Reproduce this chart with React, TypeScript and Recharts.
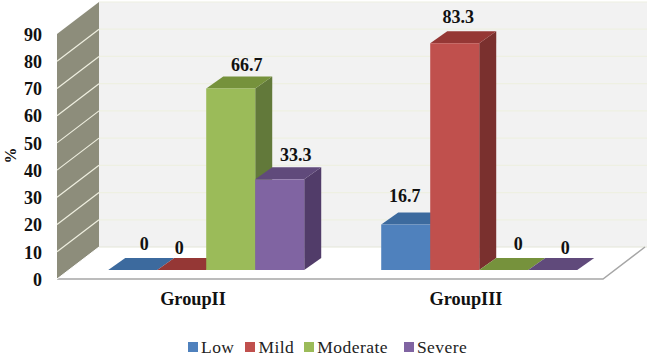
import React from "react";
import { BarChart, Bar, XAxis, YAxis, Legend, LabelList } from "recharts";

const groups = ["GroupII", "GroupIII"];
const low = [0, 16.7];
const mild = [0, 83.3];
const moderate = [66.7, 0];
const severe = [33.3, 0];
const yTicks = [0, 10, 20, 30, 40, 50, 60, 70, 80, 90];

const data = groups.map((group, i) => ({
  group,
  Low: low[i],
  Mild: mild[i],
  Moderate: moderate[i],
  Severe: severe[i],
}));

const WIDTH = 647;
const HEIGHT = 357;
// bottom = 87 total, minus the x axis (30) and the legend row (20)
const MARGIN = { top: 25, right: 31, bottom: 37, left: 0 };
const FONT = "'Liberation Serif', 'Times New Roman', serif";

// bar depth in the fake 3D projection
const DEPTH_X = 17;
const DEPTH_Y = 12;

// how far each series' value label sits from the bar top centre
const labelNudge: Record<string, [number, number][]> = {
  Low: [[11.5, -26], [-1, -29]],
  Mild: [[-2.5, -22], [3.5, -27]],
  Moderate: [[16, -24], [14.5, -26]],
  Severe: [[16, -25], [12.5, -22]],
};

const seriesStyle = [
  { key: "Low", front: "#4f81bd", top: "#3c6a9e", side: "#335a87" },
  { key: "Mild", front: "#c0504d", top: "#953735", side: "#7a302e" },
  { key: "Moderate", front: "#9bbb59", top: "#76923c", side: "#62793a" },
  { key: "Severe", front: "#8064a2", top: "#604a7b", side: "#513c69" },
];

const Box3D = (props: any) => {
  const { x, y, width, height, front, top, side } = props;
  const r = x + width;
  const b = y + height;
  return (
    <g>
      <polygon
        points={`${r},${y} ${r + DEPTH_X},${y - DEPTH_Y} ${r + DEPTH_X},${b - DEPTH_Y} ${r},${b}`}
        fill={side}
      />
      <polygon
        points={`${x},${y} ${x + DEPTH_X},${y - DEPTH_Y} ${r + DEPTH_X},${y - DEPTH_Y} ${r},${y}`}
        fill={top}
      />
      <rect x={x} y={y} width={width} height={height} fill={front} />
    </g>
  );
};

// the wall and floor of the chart, back to front
const Walls = () => {
  const perUnit = 245 / 90;
  const frontY = (v: number) => 279 - v * perUnit;
  const backY = (v: number) => 247 - v * perUnit;
  return (
    <g>
      <rect x={99} y={backY(90)} width={WIDTH - 99} height={245} fill="#f2f2f2" />
      {yTicks.slice(1).map((v) => (
        <line key={v} x1={99} x2={WIDTH} y1={backY(v)} y2={backY(v)} stroke="#eef0e2" strokeWidth={1.2} />
      ))}
      <polygon points={`57,279 603,279 645,247 99,247`} fill="#ffffff" />
      <line x1={99} x2={WIDTH} y1={247} y2={247} stroke="#e4e6d8" strokeWidth={1} />
      <polygon points={`57,${frontY(90)} 99,${backY(90)} 99,${backY(0)} 57,${frontY(0)}`} fill="#8d8d7b" />
      {yTicks.slice(1, -1).map((v) => (
        <line key={v} x1={57} x2={99} y1={frontY(v)} y2={backY(v)} stroke="#efefe0" strokeWidth={1.2} />
      ))}
      <polyline points="57,279 603,279 645,247" fill="none" stroke="#a6a6a6" strokeWidth={1.5} />
      <line x1={99} x2={57} y1={247} y2={279} stroke="#ffffff" strokeWidth={1} />
    </g>
  );
};

const YTick = (props: any) => (
  <text x={props.x} y={props.y + 9.5} dy="0.35em" textAnchor="end" fontFamily={FONT} fontWeight="bold" fontSize={18} fill="#111">
    {props.payload.value}
  </text>
);

const XTick = (props: any) => (
  <text x={props.x - 13.5} y={props.y - 1} dy="0.35em" textAnchor="middle" fontFamily={FONT} fontWeight="bold" fontSize={18.3} fill="#111">
    {props.payload.value}
  </text>
);

const ValueLabel = (props: any) => {
  const { x, y, width, value, index, seriesKey } = props;
  const [dx, dy] = labelNudge[seriesKey][index];
  return (
    <text x={x + width / 2 + dx} y={y + dy} dy="0.35em" textAnchor="middle" fontFamily={FONT} fontWeight="bold" fontSize={18} fill="#111">
      {value}
    </text>
  );
};

const legendGaps = [11, 10, 16, 0];

const LegendRow = ({ payload }: any) => (
  <div style={{ display: "flex", height: 20, lineHeight: "20px", paddingLeft: 188, fontFamily: FONT, fontSize: 17.5, color: "#222", letterSpacing: 0.45 }}>
    {(payload || []).map((item: any, i: number) => (
      <span key={item.value} style={{ display: "flex", alignItems: "center", marginRight: legendGaps[i] }}>
        <span style={{ width: 10, height: 10, background: item.color, marginRight: 3 }} />
        {item.value}
      </span>
    ))}
  </div>
);

export default function App() {
  return (
    <div style={{ position: "absolute", left: 0, top: 0, width: WIDTH, height: HEIGHT, background: "#fff" }}>
      <BarChart width={WIDTH} height={HEIGHT} data={data} margin={MARGIN} barGap={0} barCategoryGap="14%">
        <Walls />
        <XAxis dataKey="group" axisLine={false} tickLine={false} tickSize={0} tickMargin={30} tick={<XTick />} interval={0} />
        <YAxis
          domain={[0, 90]}
          ticks={yTicks}
          width={70}
          axisLine={false}
          tickLine={false}
          tickSize={0}
          tickMargin={28}
          tick={<YTick />}
          interval={0}
          label={{ value: "%", angle: -90, position: "insideLeft", offset: 10, dy: 16, fontFamily: FONT, fontWeight: "bold", fontSize: 16, fill: "#111" }}
        />
        <Legend content={<LegendRow />} verticalAlign="bottom" wrapperStyle={{ left: 0, bottom: 0, width: WIDTH }} />
        {seriesStyle.map((s) => (
          <Bar
            key={s.key}
            dataKey={s.key}
            fill={s.front}
            isAnimationActive={false}
            shape={(p: any) => <Box3D {...p} front={s.front} top={s.top} side={s.side} />}
          >
            <LabelList dataKey={s.key} content={(p: any) => <ValueLabel {...p} seriesKey={s.key} />} />
          </Bar>
        ))}
      </BarChart>
    </div>
  );
}
